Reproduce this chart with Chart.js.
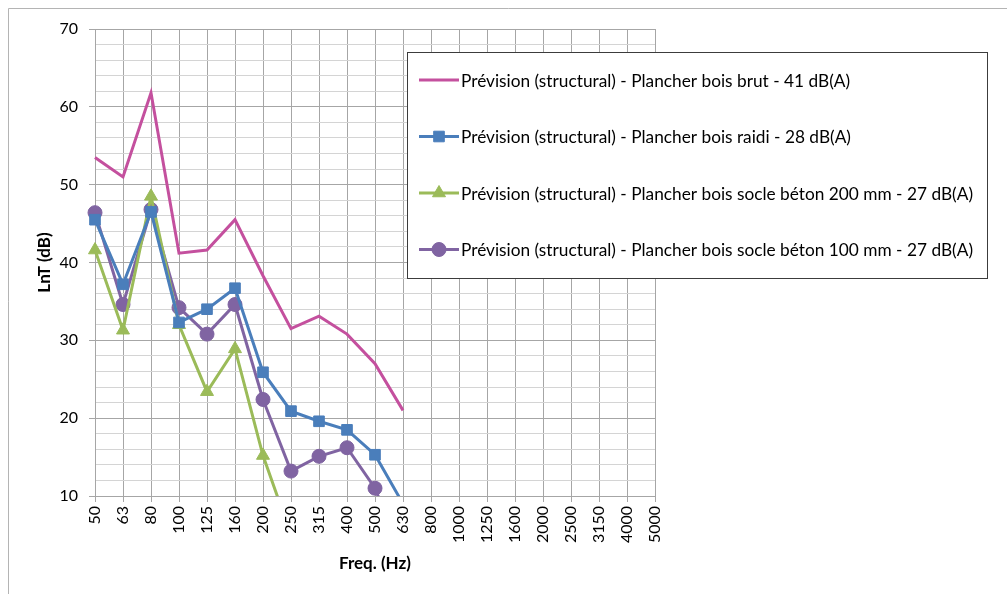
<!DOCTYPE html>
<html>
<head>
<meta charset="utf-8">
<script src="https://cdn.jsdelivr.net/npm/chart.js@4/dist/chart.umd.min.js"></script>
<style>
  html, body { margin: 0; padding: 0; background: #fff; }
  #wrap { width: 1007px; height: 594px; position: relative; }
</style>
</head>
<body>
<div id="wrap"><canvas id="lntChart"></canvas></div>
<script>
// Fréquences (bandes tiers d'octave)
const frequences = ['50', '63', '80', '100', '125', '160', '200', '250', '315', '400', '500', '630',
    '800', '1000', '1250', '1600', '2000', '2500', '3150', '4000', '5000'];

// LnT (dB) par configuration
const boisBrut = [53.5, 51.0, 61.8, 41.2, 41.6, 45.5, 38.3, 31.5, 33.1, 30.8, 27.0, 21.0];
const boisRaidi = [45.5, 37.2, 46.5, 32.3, 34.0, 36.7, 25.9, 20.9, 19.6, 18.5, 15.3, 9.0];
const socle200 = [41.6, 31.3, 48.5, 32.0, 23.4, 28.9, 15.2, 5.0];
const socle100 = [46.4, 34.6, 46.8, 34.2, 30.8, 34.6, 22.4, 13.2, 15.1, 16.2, 11.0, 2.0];

const libelles = [
    'Prévision (structural) - Plancher bois brut - 41 dB(A)',
    'Prévision (structural) - Plancher bois raidi - 28 dB(A)',
    'Prévision (structural) - Plancher bois socle béton 200 mm - 27 dB(A)',
    'Prévision (structural) - Plancher bois socle béton 100 mm - 27 dB(A)'
];

const yTicks = [10, 20, 30, 40, 50, 60, 70];

const police = 'Lato, "Open Sans", sans-serif';
const grisMajeur = '#a6a6a6';
const grisMineur = '#d4d4d4';

// Cadre extérieur du graphique
const cadrePlugin = {
    id: 'cadre',
    beforeDraw(chart) {
        const ctx = chart.ctx;
        ctx.save();
        ctx.fillStyle = '#fff';
        ctx.fillRect(0, 0, chart.width, chart.height);
        ctx.strokeStyle = '#b4b4b4';
        ctx.lineWidth = 1;
        ctx.beginPath();
        ctx.moveTo(8.5, chart.height + 2);
        ctx.lineTo(8.5, 8.5);
        ctx.lineTo(chart.width + 2, 8.5);
        ctx.stroke();
        ctx.restore();
    }
};

function dessinerMarqueur(ctx, style, x, y, r, couleur) {
    ctx.fillStyle = couleur;
    ctx.strokeStyle = couleur;
    ctx.lineWidth = 1;
    ctx.beginPath();
    if (style === 'rect') {
        const s = Math.SQRT1_2 * r;
        ctx.rect(x - s, y - s, 2 * s, 2 * s);
    } else if (style === 'triangle') {
        ctx.moveTo(x, y - r);
        ctx.lineTo(x + Math.sin(2 * Math.PI / 3) * r, y + r / 2);
        ctx.lineTo(x - Math.sin(2 * Math.PI / 3) * r, y + r / 2);
        ctx.closePath();
    } else if (style === 'circle') {
        ctx.arc(x, y, r, 0, Math.PI * 2);
    } else {
        return;
    }
    ctx.fill();
    ctx.stroke();
}

// Légende encadrée, posée sur la zone de tracé comme dans Excel
const legendePlugin = {
    id: 'legendeEncadree',
    afterDraw(chart) {
        const ctx = chart.ctx;
        const box = { x: 407.5, y: 52.5, w: 580, h: 226 };
        ctx.save();
        ctx.fillStyle = '#fff';
        ctx.fillRect(box.x, box.y, box.w, box.h);
        ctx.strokeStyle = '#3c3c3c';
        ctx.lineWidth = 1;
        ctx.strokeRect(box.x, box.y, box.w, box.h);

        // taille de police ajustée pour que le libellé le plus long tienne sur ~512 px
        ctx.font = '14px ' + police;
        const plusLong = Math.max(...chart.data.datasets.map(d => ctx.measureText(d.label).width));
        const taille = Math.min(18, 14 * 512 / plusLong);
        ctx.font = taille.toFixed(2) + 'px ' + police;
        ctx.textBaseline = 'middle';
        chart.data.datasets.forEach((ds, i) => {
            const y = 80 + i * 56.5;
            ctx.strokeStyle = ds.borderColor;
            ctx.lineWidth = 3;
            ctx.beginPath();
            ctx.moveTo(419, y);
            ctx.lineTo(459, y);
            ctx.stroke();
            if (ds.pointRadius > 0) {
                dessinerMarqueur(ctx, ds.pointStyle, 439, y, ds.pointRadius, ds.borderColor);
            }
            ctx.fillStyle = '#000';
            ctx.fillText(ds.label, 461, y + 1);
        });
        ctx.restore();
    }
};

function serie(label, data, couleur, style, rayon) {
    return {
        label: label,
        data: data,
        borderColor: couleur,
        backgroundColor: couleur,
        borderWidth: 3,
        pointStyle: style,
        pointRadius: rayon,
        pointHoverRadius: rayon,
        pointBorderWidth: 1,
        tension: 0,
        fill: false
    };
}

new Chart(document.getElementById('lntChart'), {
    type: 'line',
    data: {
        labels: frequences,
        datasets: [
            serie(libelles[0], boisBrut, '#c4509e', false, 0),
            serie(libelles[1], boisRaidi, '#4a7ebb', 'rect', 7.5),
            serie(libelles[2], socle200, '#9bbb59', 'triangle', 7.5),
            serie(libelles[3], socle100, '#8064a2', 'circle', 7)
        ]
    },
    options: {
        responsive: true,
        maintainAspectRatio: false,
        animation: false,
        layout: { padding: { left: 8, top: 29, right: 352, bottom: 0 } },
        plugins: {
            legend: { display: false },
            tooltip: { enabled: false }
        },
        scales: {
            x: {
                offset: false,
                grid: {
                    color: grisMajeur,
                    tickColor: grisMajeur,
                    tickLength: 6,
                    lineWidth: 1
                },
                border: { color: grisMajeur },
                ticks: {
                    autoSkip: false,
                    minRotation: 90,
                    maxRotation: 90,
                    padding: 4,
                    color: '#000',
                    font: { family: police, size: 16 }
                },
                title: {
                    display: true,
                    text: 'Freq. (Hz)',
                    color: '#000',
                    font: { family: police, size: 17, weight: 'bold' },
                    padding: { top: 0, bottom: 20 }
                },
                afterFit(scale) { scale.height = 98; }
            },
            y: {
                min: 10,
                max: 70,
                grid: {
                    color: (c) => (c.tick && c.tick.value % 10 === 0) ? grisMajeur : grisMineur,
                    tickColor: (c) => (c.tick && c.tick.value % 10 === 0) ? grisMajeur : 'rgba(0,0,0,0)',
                    tickLength: 6,
                    lineWidth: 1
                },
                border: { color: grisMajeur },
                ticks: {
                    stepSize: 2,
                    autoSkip: false,
                    padding: 11,
                    color: '#000',
                    font: { family: police, size: 16 },
                    callback: (v) => yTicks.includes(v) ? String(v) : ''
                },
                title: {
                    display: true,
                    text: 'LnT (dB)',
                    color: '#000',
                    font: { family: police, size: 17, weight: 'bold' },
                    padding: { top: 26, bottom: 0 }
                },
                afterFit(scale) { scale.width = 87; }
            }
        }
    },
    plugins: [cadrePlugin, legendePlugin]
});
</script>
</body>
</html>
